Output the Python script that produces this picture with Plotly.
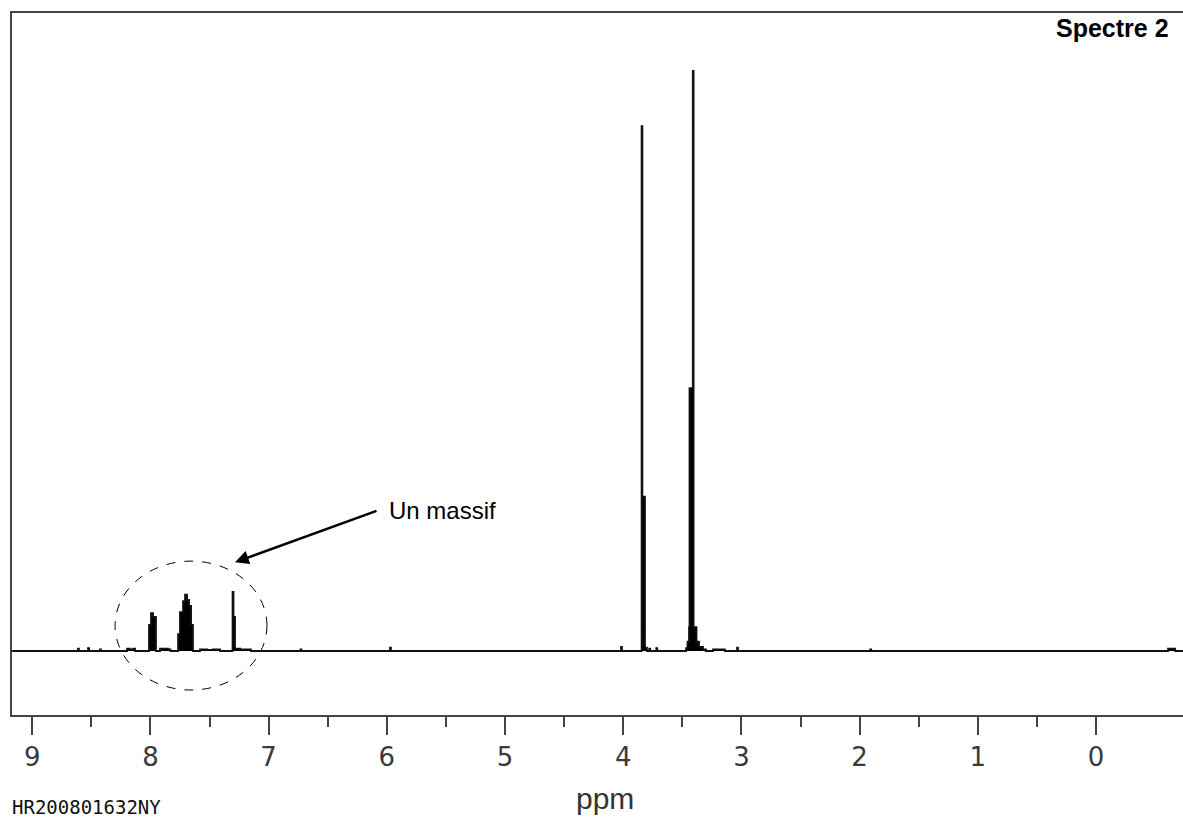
import plotly.graph_objects as go

# 1H NMR spectrum trace: chemical shift (ppm) and relative intensity (tallest line = 100)
shift_ppm = [
    9.17, 8.613, 8.605, 8.528, 8.519, 8.426, 8.418,
    8.198, 8.173, 8.147, 8.130,
    8.012, 7.995, 7.978, 7.953,
    7.919, 7.850, 7.830,
    7.766, 7.750, 7.724, 7.707, 7.690, 7.673, 7.656, 7.640,
    7.580, 7.520, 7.470, 7.410,
    7.305, 7.297, 7.284, 7.240, 7.150,
    6.730, 6.722, 5.973, 5.965, 4.019, 4.011,
    3.8444, 3.8376, 3.8156, 3.799,
    3.780, 3.772, 3.720, 3.712,
    3.4687, 3.4560, 3.4433, 3.4391, 3.4112, 3.4044, 3.3799, 3.3587, 3.325, 3.300,
    3.240, 3.140, 3.037, 3.029,
    1.910, 1.902, -0.610, -0.670, -0.74,
]
intensity = [
    0.0, 0.4, 0.0, 0.5, 0.0, 0.3, 0.0,
    0.4, 0.3, 0.4, 0.0,
    4.5, 6.55, 5.9, 0.0,
    0.4, 0.3, 0.0,
    2.9, 6.7, 8.6, 9.7, 8.8, 7.8, 4.5, 0.0,
    0.3, 0.2, 0.3, 0.0,
    10.2, 5.9, 0.4, 0.3, 0.0,
    0.3, 0.0, 0.6, 0.0, 0.7, 0.0,
    90.5, 26.6, 0.6, 0.0,
    0.4, 0.0, 0.5, 0.0,
    0.5, 1.6, 4.1, 45.3, 100.0, 4.1, 1.6, 0.7, 0.3, 0.0,
    0.3, 0.0, 0.6, 0.0,
    0.3, 0.0, 0.4, 0.0, 0.0,
]

major_ticks = [9, 8, 7, 6, 5, 4, 3, 2, 1, 0]
major_labels = ["9", "8", "7", "6", "5", "4", "3", "2", "1", "0"]
minor_ticks = [8.5, 7.5, 6.5, 5.5, 4.5, 3.5, 2.5, 1.5, 0.5]

x_range = [9.171, -0.736]
y_range = [-11.03, 110.0]

title_text = "Spectre 2"
callout_text = "Un massif"
axis_text = "ppm"
sample_id = "HR200801632NY"

fig = go.Figure()
fig.add_trace(go.Scatter(
    x=shift_ppm, y=intensity, mode="lines",
    line=dict(color="#111111", width=1.8, shape="hv"),
    fill="tozeroy", fillcolor="black",
    hoverinfo="skip", showlegend=False,
))

frame = "#444444"
fig.update_layout(
    width=1183, height=820,
    margin=dict(l=12, r=0, t=13, b=105, autoexpand=False),
    paper_bgcolor="white", plot_bgcolor="white",
    showlegend=False,
    xaxis=dict(
        range=x_range, showgrid=False, zeroline=False,
        showline=True, linecolor=frame, linewidth=2, mirror=True,
        tickmode="array", tickvals=major_ticks, ticktext=major_labels,
        ticks="outside", ticklen=18, tickwidth=2, tickcolor=frame,
        ticklabelstandoff=0,
        tickfont=dict(family="DejaVu Sans", size=26, color="#3a3a3a"),
        minor=dict(tickmode="array", tickvals=minor_ticks, ticks="outside",
                   ticklen=10, tickwidth=2, tickcolor=frame, showgrid=False),
        automargin=False,
    ),
    yaxis=dict(
        range=y_range, showgrid=False, zeroline=False,
        showline=True, linecolor=frame, linewidth=2, mirror=False,
        showticklabels=False, ticks="", automargin=False,
    ),
)

# dashed ellipse around the aromatic signals
fig.add_shape(type="circle", xref="x", yref="y",
              x0=8.299, x1=7.014, y0=-6.72, y1=15.5,
              line=dict(color="black", width=1, dash="dash"))

# arrow pointing at the ellipse
fig.add_annotation(x=7.284, y=15.3, xref="x", yref="y", text="",
                   showarrow=True, arrowhead=2, arrowsize=1.1, arrowwidth=2.5,
                   arrowcolor="black", ax=143, ay=-52, standoff=0)
fig.add_annotation(x=5.998, y=24.2, xref="x", yref="y", text=callout_text,
                   showarrow=False, xanchor="left", yanchor="middle",
                   font=dict(family="Liberation Sans", size=24, color="black"))

fig.add_annotation(x=0.9898, y=0.978, xref="paper", yref="paper",
                   text="<b>" + title_text + "</b>", showarrow=False,
                   xanchor="right", yanchor="middle",
                   font=dict(family="Liberation Sans", size=25, color="black"))

fig.add_annotation(x=0.5064, y=-0.1185, xref="paper", yref="paper",
                   text=axis_text, showarrow=False,
                   xanchor="center", yanchor="middle",
                   font=dict(family="Liberation Sans", size=30, color="#333333"))

fig.add_annotation(x=-0.0017, y=-0.1311, xref="paper", yref="paper",
                   text=sample_id, showarrow=False,
                   xanchor="left", yanchor="middle",
                   font=dict(family="DejaVu Sans Mono", size=19, color="#111111"))

fig.write_html("out.html")
